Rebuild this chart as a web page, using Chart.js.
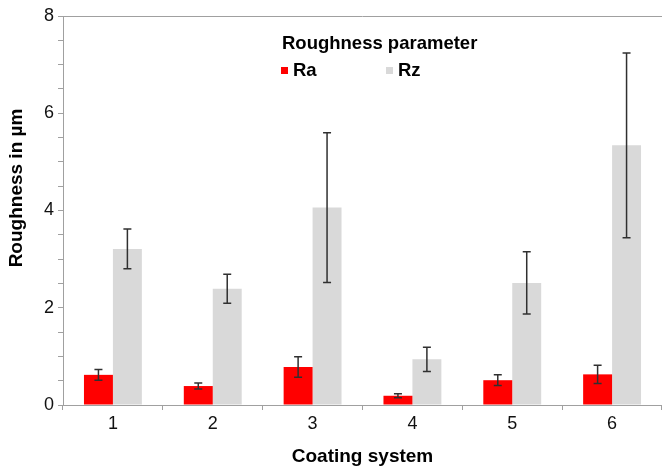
<!DOCTYPE html>
<html>
<head>
<meta charset="utf-8">
<script src="https://cdn.jsdelivr.net/npm/chart.js@4.4.1/dist/chart.umd.min.js"></script>
<style>
  html, body { margin: 0; padding: 0; background: #fff; }
  #wrap { width: 662px; height: 468px; }
</style>
</head>
<body>
<div id="wrap"><canvas id="roughness"></canvas></div>
<script>
// values (µm)
const coatingSystems = ['1', '2', '3', '4', '5', '6'];
const raValues = [0.62, 0.39, 0.78, 0.19, 0.51, 0.63];
const raErrors = [0.11, 0.06, 0.21, 0.04, 0.11, 0.19];
const rzValues = [3.21, 2.39, 4.06, 0.94, 2.51, 5.34];
const rzErrors = [0.41, 0.30, 1.54, 0.25, 0.64, 1.90];
const yTickLabels = [0, 2, 4, 6, 8];

const fontFam = '"Liberation Sans", Arial, Helvetica, sans-serif';
const axisGray = '#a0a0a0';

// error bars, drawn over the bars
const errorBars = {
  id: 'errorBars',
  afterDatasetsDraw(chart) {
    const ctx = chart.ctx;
    const y = chart.scales.y;
    const errs = [raErrors, rzErrors];
    ctx.save();
    ctx.strokeStyle = '#303030';
    ctx.lineWidth = 1.5;
    chart.data.datasets.forEach((ds, di) => {
      const meta = chart.getDatasetMeta(di);
      meta.data.forEach((bar, i) => {
        const v = ds.data[i], e = errs[di][i];
        const top = y.getPixelForValue(v + e);
        const bot = y.getPixelForValue(v - e);
        ctx.beginPath();
        ctx.moveTo(bar.x, top); ctx.lineTo(bar.x, bot);
        ctx.moveTo(bar.x - 4, top); ctx.lineTo(bar.x + 4, top);
        ctx.moveTo(bar.x - 4, bot); ctx.lineTo(bar.x + 4, bot);
        ctx.stroke();
      });
    });
    ctx.restore();
  }
};

// top border, y title and legend inside the plot
const frameLegend = {
  id: 'frameLegend',
  afterDraw(chart) {
    const ctx = chart.ctx;
    const a = chart.chartArea;
    ctx.save();
    ctx.strokeStyle = axisGray;
    ctx.lineWidth = 1;
    ctx.beginPath();
    ctx.moveTo(a.left, a.top + 0.5); ctx.lineTo(a.right, a.top + 0.5);
    ctx.stroke();

    // y axis title (sits a bit above the middle in the original)
    ctx.fillStyle = '#000';
    ctx.font = 'bold 19px ' + fontFam;
    ctx.textAlign = 'center';
    ctx.textBaseline = 'middle';
    ctx.translate(17, 188);
    ctx.rotate(-Math.PI / 2);
    ctx.fillText('Roughness in µm', 0, 0);
    ctx.setTransform(1, 0, 0, 1, 0, 0);

    ctx.font = 'bold 18.5px ' + fontFam;
    ctx.textAlign = 'left';
    ctx.fillText('Roughness parameter', 282, 44);
    const xs = [281, 386];
    chart.data.datasets.forEach((ds, i) => {
      ctx.fillStyle = ds.backgroundColor;
      ctx.fillRect(xs[i], 67, 7, 7);
      ctx.fillStyle = '#000';
      ctx.fillText(ds.label, xs[i] + 12, 71);
    });
    ctx.restore();
  }
};

new Chart(document.getElementById('roughness'), {
  type: 'bar',
  data: {
    labels: coatingSystems,
    datasets: [
      { label: 'Ra', data: raValues, backgroundColor: '#ff0000' },
      { label: 'Rz', data: rzValues, backgroundColor: '#d9d9d9' }
    ]
  },
  options: {
    responsive: true,
    maintainAspectRatio: false,
    animation: false,
    layout: { padding: { top: 16, right: 0, left: 6, bottom: 0 } },
    datasets: { bar: { categoryPercentage: 0.58, barPercentage: 1.0 } },
    plugins: {
      legend: { display: false },
      tooltip: { enabled: false }
    },
    scales: {
      x: {
        offset: true,
        grid: { display: true, drawOnChartArea: false, offset: true, tickLength: 5, color: axisGray },
        border: { color: axisGray, width: 1 },
        ticks: { color: '#111', font: { family: fontFam, size: 18 }, padding: 3 },
        title: { display: true, text: 'Coating system', color: '#000', font: { family: fontFam, size: 19, weight: 'bold' }, padding: { top: 1, bottom: 0 } },
        afterFit(s) { s.height = 63; }
      },
      y: {
        min: 0, max: 8,
        grid: { drawOnChartArea: false, tickLength: 5, color: axisGray },
        border: { color: axisGray, width: 1 },
        ticks: {
          stepSize: 0.5,
          autoSkip: false,
          color: '#111',
          font: { family: fontFam, size: 18 },
          padding: 4,
          callback: v => yTickLabels.includes(v) ? String(v) : ''
        },
        afterFit(s) { s.width = 57; }
      }
    }
  },
  plugins: [errorBars, frameLegend]
});
</script>
</body>
</html>
